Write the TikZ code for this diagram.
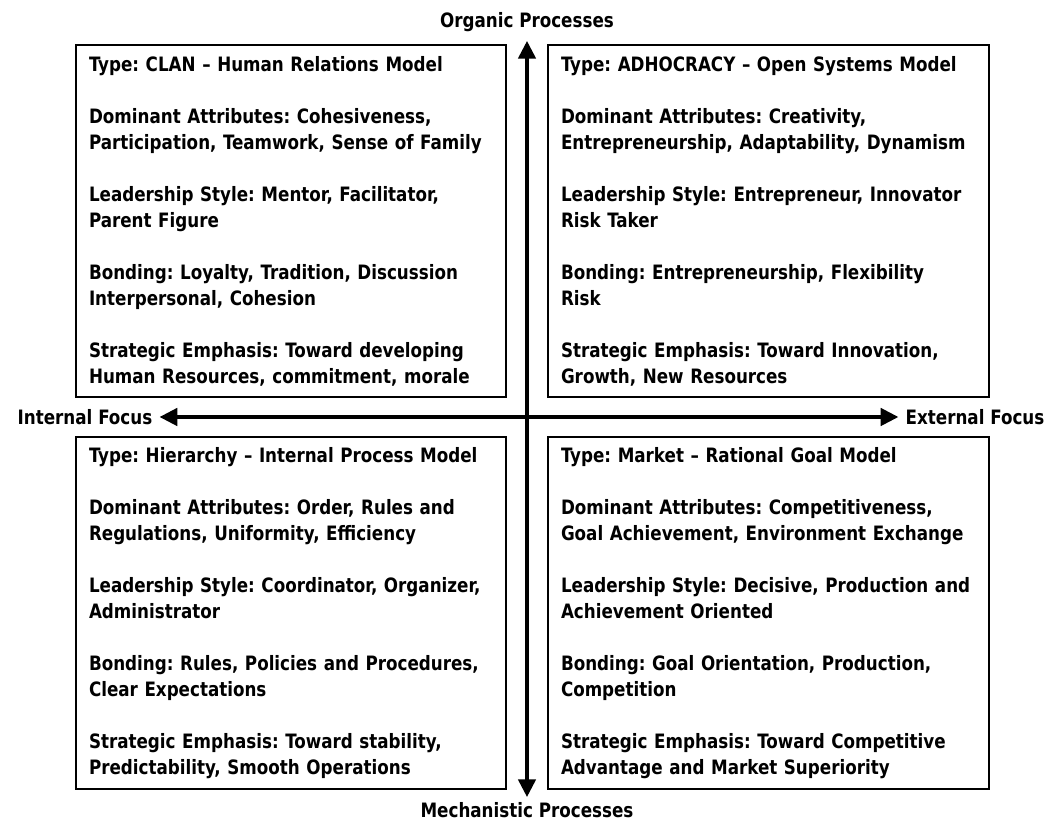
\documentclass[tikz,border=0pt]{standalone}
\usepackage{fontspec}
\setmainfont{DejaVu Sans Condensed}[FakeStretch=0.94]
\usetikzlibrary{arrows.meta}

\tikzset{
    quad/.style={draw, line width=1.3pt, align=left, inner xsep=6.5pt, inner ysep=0pt,
        minimum height=176pt, font=\fontsize{9.9}{13}\selectfont\bfseries\frenchspacing},
    axis/.style={font=\fontsize{9.9}{13}\selectfont\bfseries},
    axisarrow/.style={line width=2.4pt, {Triangle[length=9pt,width=8.5pt]}-{Triangle[length=9pt,width=8.5pt]}}
}
\newcommand{\gap}{\\[13pt]}

\begin{document}
\begin{tikzpicture}[x=0.5pt,y=-0.5pt]
    \useasboundingbox (0,0) rectangle (1061,822);

    \node[quad, text width=202pt] (clan) at (291,221) {Type: CLAN -- Human Relations Model\gap
        Dominant Attributes: Cohesiveness,\\ Participation, Teamwork, Sense of Family\gap
        Leadership Style: Mentor, Facilitator,\\ Parent Figure\gap
        Bonding: Loyalty, Tradition, Discussion\\ Interpersonal, Cohesion\gap
        Strategic Emphasis: Toward developing\\ Human Resources, commitment, morale};
    \node[quad, text width=207.5pt] (adhoc) at (768.5,221) {Type: ADHOCRACY -- Open Systems Model\gap
        Dominant Attributes: Creativity,\\ Entrepreneurship, Adaptability, Dynamism\gap
        Leadership Style: Entrepreneur, Innovator\\ Risk Taker\gap
        Bonding: Entrepreneurship, Flexibility\\ Risk\gap
        Strategic Emphasis: Toward Innovation,\\ Growth, New Resources};
    \node[quad, text width=202pt] (hier) at (291,613) {Type: Hierarchy -- Internal Process Model\gap
        Dominant Attributes: Order, Rules and\\ Regulations, Uniformity, Efficiency\gap
        Leadership Style: Coordinator, Organizer,\\ Administrator\gap
        Bonding: Rules, Policies and Procedures,\\ Clear Expectations\gap
        Strategic Emphasis: Toward stability,\\ Predictability, Smooth Operations};
    \node[quad, text width=207.5pt] (market) at (768.5,613) {Type: Market -- Rational Goal Model\gap
        Dominant Attributes: Competitiveness,\\ Goal Achievement, Environment Exchange\gap
        Leadership Style: Decisive, Production and\\ Achievement Oriented\gap
        Bonding: Goal Orientation, Production,\\ Competition\gap
        Strategic Emphasis: Toward Competitive\\ Advantage and Market Superiority};

    \node[axis] (org) at (527,22) {Organic Processes};
    \node[axis] (mech) at (527,810) {Mechanistic Processes};
    \node[axis] (int) at (85,417) {Internal Focus};
    \node[axis] (ext) at (975,417) {External Focus};

    % the two axes crossing between the quadrants
    \draw[axisarrow, shorten <=1pt, shorten >=-1pt] (org) -- (mech);
    \draw[axisarrow] (int) -- (ext);
\end{tikzpicture}
\end{document}
